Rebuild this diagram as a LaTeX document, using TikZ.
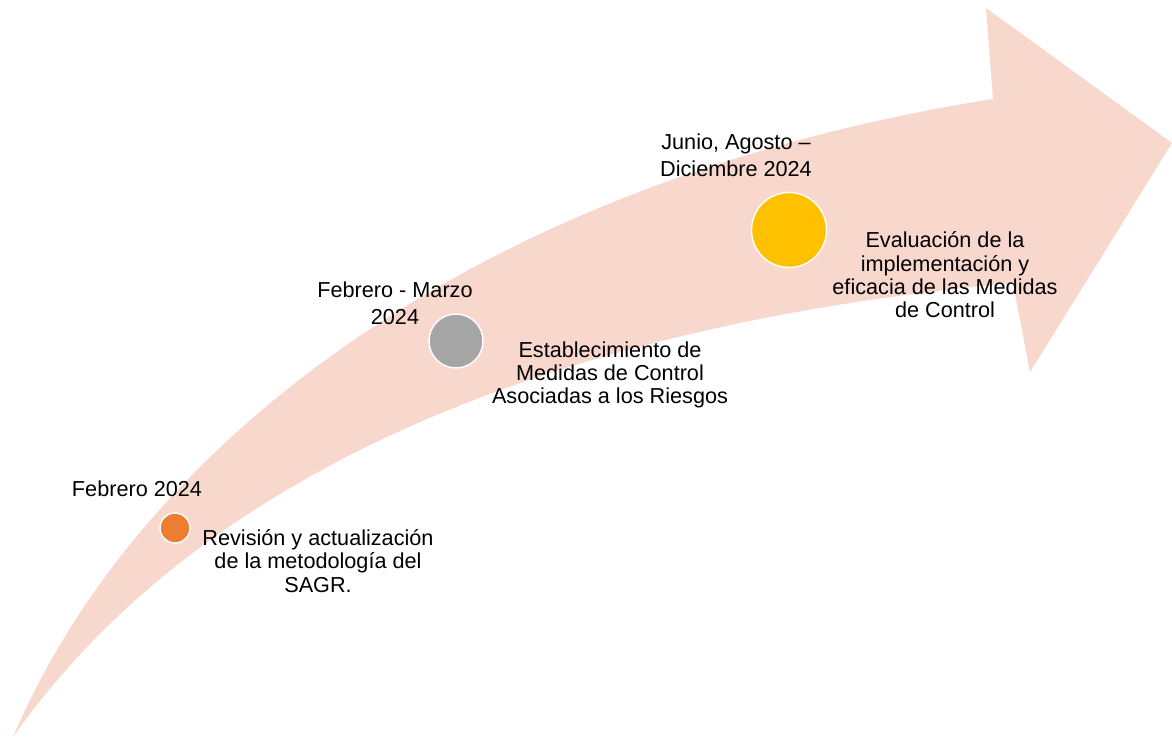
\documentclass[tikz,border=0pt]{standalone}
\usepackage{fontspec}
\setmainfont{Liberation Sans}
\usepackage{tikz}
\definecolor{arrowpink}{HTML}{F8D7CC}
\definecolor{dotorange}{HTML}{ED7D31}
\definecolor{dotgray}{HTML}{A5A5A5}
\definecolor{dotyellow}{HTML}{FFC000}
\tikzset{
    every node/.style={font=\fontsize{15.4}{16.6}\selectfont, align=center,
    	inner sep=0pt}
}
\tikzset{
    dot/.style={circle, draw=white, line width=1pt}
}

\begin{document}
\begin{tikzpicture}[x=0.025cm, y=-0.025cm]
	\useasboundingbox (0,0) rectangle (1172,738);
	\fill[arrowpink] (13,737) .. controls (140,440) and (480,180) .. (993,99)
		-- (986,8) -- (1172,143) -- (1030,372) -- (1013,283)
		.. controls (500,330) and (180,500) .. (13,737) -- cycle;

	\node (d1) [dot, fill=dotorange, minimum size=30*0.025cm] at (175,528) {};
	\node (d2) [dot, fill=dotgray, minimum size=54*0.025cm] at (456,341) {};
	\node (d3) [dot, fill=dotyellow, minimum size=75*0.025cm] at (789,230) {};

	\node (t1) at (137,489) {Febrero 2024};
	\node (t2) at (395,303) [font=\fontsize{15.4}{19.5}\selectfont] {Febrero - Marzo\\2024};
	\node (t3) at (736,155) [font=\fontsize{15.4}{19.5}\selectfont] {Junio, Agosto –\\Diciembre 2024};

	\node (s1) at (318,561) {Revisión y actualización\\de la metodología del\\SAGR.};
	\node (s2) at (610,375) {Establecimiento de\\Medidas de Control\\Asociadas a los Riesgos};
	\node (s3) at (945,275) {Evaluación de la\\implementación y\\eficacia de las Medidas\\de Control};
\end{tikzpicture}
\end{document}
